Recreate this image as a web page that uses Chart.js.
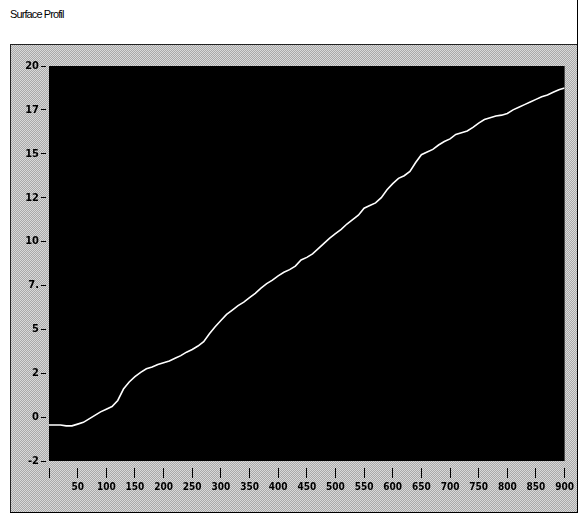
<!DOCTYPE html>
<html>
<head>
<meta charset="utf-8">
<script src="https://cdn.jsdelivr.net/npm/chart.js@4/dist/chart.umd.min.js"></script>
<style>
    body { margin: 0; background: #fff; width: 579px; height: 517px; position: relative; overflow: hidden; }
    .title { position: absolute; left: 10px; top: 8px; font: 11px 'Liberation Sans', Arial, sans-serif; letter-spacing: -0.9px; color: #000; }
    .rule { position: absolute; left: 577px; top: 0; width: 1px; height: 513px; background: #000; }
    .panel {
        position: absolute; left: 10px; top: 44px; width: 566px; height: 467px;
        border-top: 1px solid #222; border-left: 1px solid #222;
        background: repeating-conic-gradient(#a9a9a9 0 25%, #d9d9d9 0 50%) 0 0 / 2px 2px;
    }
    .base { position: absolute; left: 10px; top: 512px; width: 568px; height: 1px; background: #000; }
    .panel canvas { position: absolute; left: 0; top: 0; }
</style>
</head>
<body>
<div class="title">Surface Profil</div>
<div class="rule"></div>
<div class="panel"><canvas id="profile"></canvas></div>
<div class="base"></div>
<script>
/* values */
var xPos = [0, 10, 20, 30, 40, 50, 60, 70, 80, 90,
    100, 110, 120, 130, 140, 150, 160, 170, 180, 190,
    200, 210, 220, 230, 240, 250, 260, 270, 280, 290,
    300, 310, 320, 330, 340, 350, 360, 370, 380, 390,
    400, 410, 420, 430, 440, 450, 460, 470, 480, 490,
    500, 510, 520, 530, 540, 550, 560, 570, 580, 590,
    600, 610, 620, 630, 640, 650, 660, 670, 680, 690,
    700, 710, 720, 730, 740, 750, 760, 770, 780, 790,
    800, 810, 820, 830, 840, 850, 860, 870, 880, 890, 900];
var profile = [-0.45, -0.45, -0.45, -0.5, -0.5, -0.4, -0.3, -0.1, 0.1, 0.3,
    0.45, 0.6, 0.95, 1.6, 2.0, 2.3, 2.55, 2.75, 2.85, 3.0,
    3.1, 3.2, 3.35, 3.5, 3.7, 3.85, 4.05, 4.3, 4.75, 5.15,
    5.5, 5.85, 6.1, 6.35, 6.55, 6.8, 7.05, 7.35, 7.6, 7.8,
    8.05, 8.25, 8.4, 8.6, 8.95, 9.1, 9.3, 9.6, 9.9, 10.2,
    10.45, 10.7, 11.0, 11.25, 11.5, 11.9, 12.05, 12.2, 12.5, 12.95,
    13.3, 13.6, 13.75, 14.0, 14.5, 14.95, 15.1, 15.25, 15.5, 15.7,
    15.85, 16.1, 16.2, 16.3, 16.5, 16.75, 16.95, 17.05, 17.15, 17.2,
    17.3, 17.5, 17.65, 17.8, 17.95, 18.1, 18.25, 18.35, 18.5, 18.65, 18.75];
var yTickLabels = {'20': '20', '17.5': '17', '15': '15', '12.5': '12', '10': '10',
    '7.5': '7.', '5': '5', '2.5': '2', '0': '0', '-2.5': '-2'};
var xTickLabels = ['', '50', '100', '150', '200', '250', '300', '350', '400', '450',
    '500', '550', '600', '650', '700', '750', '800', '850', '900'];

var points = [];
xPos.forEach(function(x, i) {
    points.push({x: x, y: profile[i]});
});

const blackArea = {
    id: 'blackArea',
    beforeDraw: function(chart) {
        const a = chart.chartArea;
        const c = chart.ctx;
        c.save();
        c.fillStyle = '#000';
        c.fillRect(a.left, a.top, a.right - a.left, a.bottom - a.top);
        c.restore();
    }
};

const canvas = document.getElementById('profile');
canvas.width = 566;
canvas.height = 467;
const tickFont = { family: "'Liberation Sans Narrow', 'DejaVu Sans Condensed', 'Liberation Sans', sans-serif", size: 10, weight: 'bold' };

new Chart(canvas.getContext('2d'), {
    type: 'line',
    data: {
        datasets: [{
            data: points,
            borderColor: '#fff',
            borderWidth: 1.6,
            pointRadius: 0,
            tension: 0,
            fill: false
        }]
    },
    plugins: [blackArea],
    options: {
        responsive: false,
        animation: false,
        layout: { padding: { left: 0, top: 21, right: 11, bottom: 0 } },
        plugins: { legend: { display: false }, tooltip: { enabled: false } },
        scales: {
            x: {
                type: 'linear',
                min: 0,
                max: 900,
                afterFit: function(s) { s.height = 51; },
                border: { display: false },
                grid: {
                    drawOnChartArea: false,
                    tickLength: 17,
                    tickColor: '#000',
                    tickWidth: 1,
                    tickBorderDash: [10, 7],
                    tickBorderDashOffset: 10
                },
                ticks: {
                    stepSize: 50,
                    autoSkip: false,
                    maxRotation: 0,
                    padding: 3,
                    color: '#000',
                    font: tickFont,
                    callback: function(v) { return xTickLabels[Math.round(v / 50)]; }
                }
            },
            y: {
                min: -2.5,
                max: 20,
                afterFit: function(s) { s.width = 38; },
                border: { display: false },
                grid: {
                    drawOnChartArea: false,
                    tickLength: 8,
                    tickColor: '#000',
                    tickBorderDash: [5, 3]
                },
                ticks: {
                    stepSize: 2.5,
                    padding: 2,
                    color: '#000',
                    font: { family: tickFont.family, size: 11, weight: 'bold' },
                    callback: function(v) { return yTickLabels[String(v)]; }
                }
            }
        }
    }
});
</script>
</body>
</html>
